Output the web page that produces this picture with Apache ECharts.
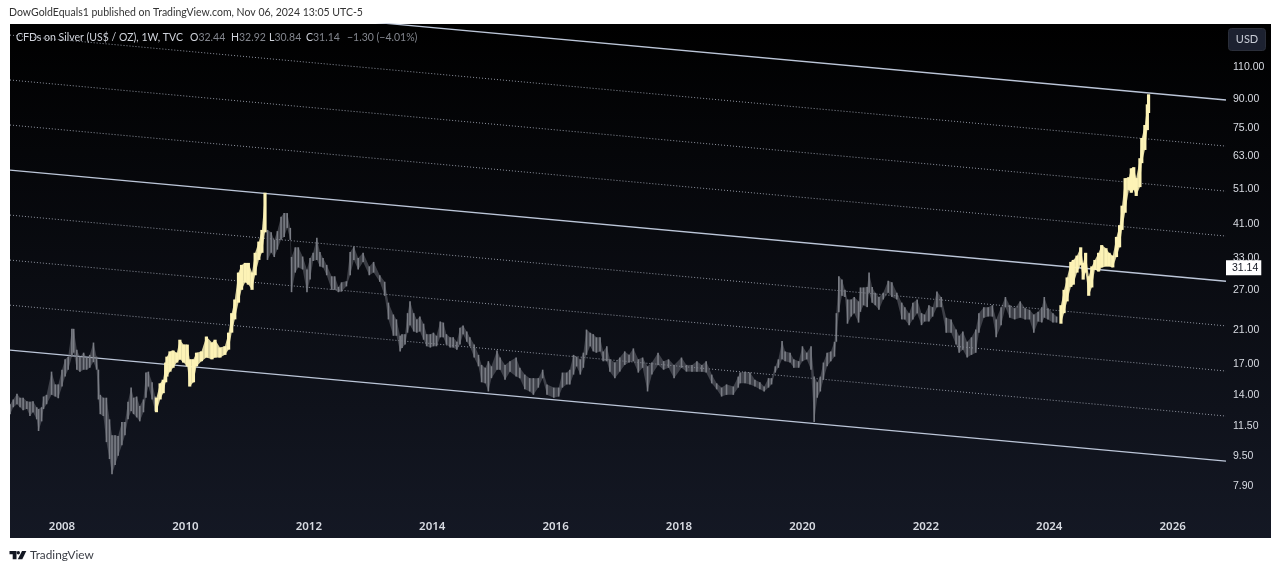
<!DOCTYPE html>
<html><head><meta charset="utf-8">
<style>html,body{margin:0;padding:0;background:#fff}#c{width:1280px;height:570px}</style>
<script src="https://cdn.jsdelivr.net/npm/echarts@6/dist/echarts.min.js"></script>
</head><body><div id="c"></div>
<script>
// [year, high, low]
const greyEarly=[[2007.16,13.2,12.4],[2007.21,13.6,12.95],[2007.27,14.1,13.2],[2007.32,13.75,12.95],[2007.37,13.75,12.7],[2007.43,13.45,12.8],[2007.48,13.4,12.25],[2007.53,13.45,12.55],[2007.59,12.95,12.0],[2007.62,12.8,11.15],[2007.67,12.95,11.85],[2007.70,13.85,12.8],[2007.75,14.0,13.2],[2007.83,16.2,14.0],[2007.89,14.95,13.85],[2007.94,14.95,13.7],[2008.0,16.4,14.75],[2008.05,17.5,15.7],[2008.10,17.8,16.4],[2008.16,21.2,17.8],[2008.19,21.2,18.25],[2008.24,18.6,16.4],[2008.29,17.8,16.2],[2008.35,18.25,16.4],[2008.40,17.7,16.4],[2008.45,18.0,16.6],[2008.51,19.45,17.2],[2008.56,17.8,16.4],[2008.59,16.4,13.6],[2008.62,14.0,12.4],[2008.67,13.75,12.25],[2008.72,13.75,10.4],[2008.77,12.0,9.35],[2008.81,10.85,8.5],[2008.86,10.85,9.0],[2008.91,10.8,9.55],[2008.97,11.8,10.2],[2009.02,11.8,10.85],[2009.07,13.4,12.0],[2009.12,14.65,12.65],[2009.16,13.75,12.4],[2009.21,13.85,12.15],[2009.26,13.05,11.85],[2009.32,13.6,12.55],[2009.36,16.1,13.75],[2009.40,16.2,14.75],[2009.46,15.15,13.6],[2009.51,13.85,12.65]];
const yellowFirst=[[2009.53,13.75,12.55],[2009.59,15.05,13.6],[2009.64,15.4,14.15],[2009.68,17.15,15.15],[2009.70,17.8,15.7],[2009.75,18.4,16.2],[2009.80,18.5,16.6],[2009.86,18.25,17.15],[2009.91,19.8,17.5],[2009.97,19.2,17.15],[2010.03,19.2,16.75],[2010.07,17.5,14.75],[2010.13,17.5,15.15],[2010.18,18.25,16.75],[2010.26,18.4,17.3],[2010.34,20.2,17.7],[2010.43,19.45,17.5],[2010.48,19.8,17.7],[2010.56,18.85,17.7],[2010.64,19.0,18.0],[2010.70,20.7,18.6],[2010.75,23.4,20.7],[2010.80,25.5,22.5],[2010.86,30.2,25.0],[2010.91,31.7,27.1],[2010.97,32.1,28.4],[2011.02,32.1,28.0],[2011.08,30.2,27.1],[2011.13,34.2,29.7],[2011.19,36.7,32.7],[2011.24,39.5,34.2],[2011.29,49.9,38.9]];
const greyDecline=[[2011.33,39.5,32.7],[2011.39,38.9,34.2],[2011.44,37.1,33.3],[2011.49,39.2,34.9],[2011.55,42.9,37.1],[2011.60,43.9,37.8],[2011.65,43.9,40.0],[2011.70,40.0,37.1],[2011.72,33.3,26.7],[2011.78,35.4,30.2],[2011.83,35.4,31.2],[2011.90,33.4,30.8],[2011.97,30.8,26.7],[2012.02,33.1,28.9],[2012.07,34.2,32.5],[2012.13,37.6,32.7],[2012.18,34.4,31.4],[2012.23,33.1,31.2],[2012.29,31.7,29.7],[2012.37,29.5,27.1],[2012.42,29.5,27.1],[2012.48,27.6,26.7],[2012.53,28.4,26.8],[2012.61,28.6,27.7],[2012.67,34.4,29.7],[2012.73,35.6,32.7],[2012.80,33.1,30.8],[2012.88,34.2,32.3],[2012.98,31.4,29.7],[2013.05,32.3,30.2],[2013.15,29.7,28.5],[2013.23,28.5,26.1],[2013.29,25.0,22.5],[2013.37,23.2,20.3],[2013.42,22.5,20.3],[2013.48,20.3,18.4],[2013.51,20.5,18.8],[2013.56,20.5,19.2],[2013.60,23.4,20.7],[2013.64,25.2,21.7],[2013.70,23.4,20.85],[2013.75,22.5,20.7],[2013.80,22.9,20.85],[2013.86,21.9,19.8],[2013.91,20.5,19.0],[2013.97,20.5,18.85],[2014.02,20.7,19.0],[2014.07,20.3,19.0],[2014.13,22.2,20.1],[2014.18,22.05,20.1],[2014.23,20.5,19.2],[2014.29,20.1,18.85],[2014.34,20.1,18.85],[2014.40,19.55,18.6],[2014.45,21.35,19.2],[2014.50,21.65,20.5],[2014.56,20.85,19.55],[2014.61,20.1,19.0],[2014.68,19.2,17.7],[2014.75,18.0,16.75],[2014.80,16.9,15.15],[2014.86,16.6,15.05],[2014.91,17.3,14.3],[2014.96,16.75,15.55],[2015.05,18.5,16.4],[2015.10,17.7,16.4],[2015.18,16.9,15.4],[2015.26,17.3,16.2],[2015.36,17.7,15.7],[2015.42,16.6,15.55],[2015.50,15.9,14.5],[2015.58,15.55,14.3],[2015.64,15.55,14.0],[2015.72,15.55,14.65],[2015.79,16.4,15.55],[2015.86,14.95,14.0],[2015.97,14.65,13.75]];
const greyRange=[[2016.05,14.65,13.85],[2016.11,16.1,14.65],[2016.18,16.1,14.95],[2016.23,16.4,14.95],[2016.29,18.0,15.9],[2016.34,17.8,16.75],[2016.40,17.5,15.9],[2016.45,18.25,16.6],[2016.50,21.1,18.0],[2016.56,20.7,19.0],[2016.61,20.5,18.4],[2016.66,20.1,18.25],[2016.72,20.1,18.4],[2016.77,18.4,17.3],[2016.83,19.0,17.3],[2016.88,17.5,16.2],[2016.96,17.15,15.55],[2017.04,17.7,16.2],[2017.12,18.4,16.9],[2017.19,18.0,17.15],[2017.26,18.75,17.3],[2017.34,17.5,16.1],[2017.41,17.7,16.6],[2017.49,16.75,14.3],[2017.56,17.15,15.9],[2017.66,18.25,16.9],[2017.75,17.3,16.4],[2017.83,17.5,16.6],[2017.92,16.9,15.55],[2018.04,17.7,16.6],[2018.12,16.9,16.2],[2018.21,16.9,16.2],[2018.29,17.3,16.2],[2018.37,16.9,16.2],[2018.44,17.3,16.1],[2018.53,15.9,15.05],[2018.61,15.05,14.5],[2018.69,14.65,13.85],[2018.77,14.95,14.0],[2018.88,14.75,14.0],[2018.96,15.7,14.65],[2018.99,16.1,15.05],[2019.07,16.2,15.05],[2019.15,16.1,14.95],[2019.23,15.4,14.75],[2019.31,15.15,14.5],[2019.38,14.75,14.3],[2019.45,15.55,14.65],[2019.50,15.55,14.95],[2019.56,16.75,16.1],[2019.61,17.5,16.6],[2019.67,19.65,17.5],[2019.72,18.4,17.3],[2019.80,18.25,17.15],[2019.86,17.5,16.6],[2019.94,17.3,16.6]];
const greyRecent=[[2020.00,19.0,17.3],[2020.07,18.25,17.5],[2020.14,19.0,16.4],[2020.19,15.7,11.8],[2020.24,15.15,13.75],[2020.29,15.7,14.3],[2020.34,17.15,15.4],[2020.40,18.25,16.75],[2020.46,18.4,17.3],[2020.52,19.55,17.8],[2020.55,23.4,19.55],[2020.59,29.5,23.55],[2020.64,28.9,26.1],[2020.69,27.1,25.9],[2020.73,25.5,21.9],[2020.79,25.5,22.9],[2020.84,25.9,23.4],[2020.91,25.2,22.05],[2020.94,27.5,23.6],[2020.99,27.5,24.6],[2021.05,27.6,24.3],[2021.08,30.2,26.6],[2021.13,27.6,25.0],[2021.18,26.6,24.6],[2021.24,25.9,23.9],[2021.31,26.6,25.5],[2021.39,28.7,26.6],[2021.45,28.4,25.9],[2021.53,26.6,25.5],[2021.61,25.0,22.5],[2021.66,24.3,22.5],[2021.73,23.4,21.7],[2021.79,25.0,22.5],[2021.86,25.5,23.4],[2021.93,23.4,21.7],[2021.98,23.2,22.2],[2022.05,24.6,22.2],[2022.11,24.3,22.9],[2022.18,26.8,24.3],[2022.25,25.9,24.3],[2022.33,22.75,20.7],[2022.41,22.5,20.7],[2022.49,21.1,19.2],[2022.54,20.3,18.25],[2022.60,20.85,18.6],[2022.67,19.55,17.7],[2022.74,20.1,18.0],[2022.81,21.1,18.25],[2022.86,23.4,20.7],[2022.94,24.3,22.75],[2023.01,24.3,22.9],[2023.08,24.6,22.9],[2023.14,22.5,20.1],[2023.22,24.3,21.7],[2023.29,25.9,24.3],[2023.36,24.6,22.75],[2023.44,24.15,22.5],[2023.53,25.2,22.75],[2023.61,24.15,22.5],[2023.68,23.9,22.5],[2023.75,23.2,20.7],[2023.82,23.6,22.2],[2023.88,24.3,22.05],[2023.92,25.9,22.75],[2023.98,24.15,22.5],[2024.06,23.4,22.05],[2024.12,22.9,22.05]];
const yellowLast=[[2024.19,24.6,21.9],[2024.24,27.1,23.4],[2024.29,29.3,25.2],[2024.35,32.3,27.6],[2024.39,32.7,28.0],[2024.45,33.6,30.2],[2024.51,35.4,31.7],[2024.55,32.1,28.9],[2024.59,34.2,30.2],[2024.64,29.5,26.1],[2024.69,31.4,27.5],[2024.74,32.7,30.8],[2024.80,34.2,30.4],[2024.85,35.9,31.2],[2024.92,35.2,31.4],[2024.97,34.2,31.4],[2025.03,33.6,31.2],[2025.09,37.8,33.3],[2025.14,40.7,35.4],[2025.18,46.0,39.5],[2025.23,54.7,44.0],[2025.29,55.0,50.8],[2025.33,58.2,49.9],[2025.37,58.6,50.8],[2025.41,54.7,48.9],[2025.47,62.0,51.7],[2025.50,70.4,60.1],[2025.55,76.4,65.3],[2025.59,87.0,74.0],[2025.61,92.7,82.4]];
const lineYears=[2007.157,2026.865];
const solidLevels=[[179.7,89.4],[57.55,28.6],[18.55,9.23]];
const dottedLevels=[[134.5,66.9],[101.4,50.4],[76.4,38.0],[43.36,21.6],[32.67,16.26],[24.61,12.25]];
const priceTicks=[110,90,75,63,51,41,33,27,21,17,14,11.5,9.5,7.9];
const yearTicks=[2008,2010,2012,2014,2016,2018,2020,2022,2024,2026];
const lastClose=31.14;
const FONT='Lato,"Noto Sans",sans-serif';
const PRICEFONT='"Liberation Sans",Lato,sans-serif';

const chart=echarts.init(document.getElementById('c'),null,{renderer:'canvas'});
function bars(name,data,color,w,z,band){
  return {name,type:'custom',data,z,clip:true,encode:{x:0,y:[1,2]},
    renderItem(p,api){
      const i=p.dataIndex;
      const a=api.coord([api.value(0),api.value(1)]),b=api.coord([api.value(0),api.value(2)]);
      const children=[];
      const n=data[i+1];
      if(n){
        const c=api.coord([n[0],n[1]]),d=api.coord([n[0],n[2]]);
        children.push({type:'polygon',shape:{points:[a,c,d,b]},style:{fill:color,opacity:band}});
      }
      children.push({type:'rect',shape:{x:a[0]-w/2,y:a[1],width:w,height:Math.max(b[1]-a[1],1)},style:{fill:color}});
      return {type:'group',children};
    }};
}
function trend(level,solid){
  return {type:'line',data:lineYears.map((y,i)=>[y,level[i]]),symbol:'none',silent:true,z:solid?4:3,
    lineStyle:solid?{color:'#bcc6d8',width:1.3}:{color:'#8f94a0',width:1,type:[1,2]}};
}
const GREY='#7a7d85',YEL='#fdf3b6';
const legendRich={a:{fill:'#d1d4dc',font:'10.5px '+FONT},b:{fill:'#83868e',font:'10.5px '+FONT}};
const legendParts=[[16,'{a|CFDs on Silver (US$ / OZ), 1W, TVC}'],[190,'{a|O}{b|32.44}'],[231,'{a|H}{b|32.92}'],[269,'{a|L}{b|30.84}'],[306,'{a|C}{b|31.14}'],[347,'{b|−1.30 (−4.01%)}']];
chart.setOption({
  animation:false,backgroundColor:'#fff',
  grid:{left:10,right:54,top:24,bottom:32},
  xAxis:{type:'value',min:2007.157,max:2026.865,splitLine:{show:false},axisLine:{show:false},axisTick:{show:false},
    axisLabel:{inside:true,margin:5,customValues:yearTicks,formatter:v=>String(Math.round(v)),color:'#d8dbe2',fontFamily:'"Noto Sans",sans-serif',fontSize:11.5,fontWeight:600}},
  yAxis:{type:'log',logBase:10,position:'right',min:5.69,max:144.2,splitLine:{show:false},axisLine:{show:false},axisTick:{show:false},minorTick:{show:false},
    axisLabel:{margin:7,customValues:priceTicks,formatter:v=>(+v).toFixed(2),color:'#d8dbe2',fontFamily:PRICEFONT,fontSize:10.5,align:'left',padding:[5,0,0,0]}},
  series:[
    ...solidLevels.map(l=>trend(l,true)),
    ...dottedLevels.map(l=>trend(l,false)),
    bars('greyEarly',greyEarly,GREY,1.6,5,0.45),
    bars('greyMiddle',greyDecline.concat(greyRange,greyRecent),GREY,1.6,5,0.45),
    bars('yellowFirst',yellowFirst,YEL,3.2,6,0.85),
    bars('yellowLast',yellowLast,YEL,3.2,6,0.85),
    {type:'scatter',data:[[2026.865,lastClose]],symbolSize:0,z:10,clip:false,silent:true,itemStyle:{opacity:1},
     label:{show:true,position:'right',distance:0,formatter:p=>p.value[1].toFixed(2),backgroundColor:'#fff',color:'#131722',opacity:1,
       fontFamily:PRICEFONT,fontSize:10.5,lineHeight:12,padding:[2,3,1,6]}}
  ],
  graphic:[
    {type:'rect',z:-10,silent:true,shape:{x:10,y:24,width:1261,height:514},
      style:{fill:new echarts.graphic.LinearGradient(0,0,0,1,[{offset:0,color:'#000000'},{offset:1,color:'#141824'}])}},
    {type:'text',x:9,y:7,style:{text:'DowGoldEquals1 published on TradingView.com, Nov 06, 2024 13:05 UTC-5',fill:'#333',font:'10.5px '+FONT}},
    ...legendParts.map(p=>({type:'text',x:p[0],y:32,z:20,style:{text:p[1],rich:legendRich}})),
    {type:'rect',z:20,shape:{x:1228.5,y:28.5,width:37,height:22,r:3},style:{fill:'#1c2130',stroke:'#2a2e39',lineWidth:1}},
    {type:'text',x:1247,y:39.5,z:21,style:{text:'USD',fill:'#c8ccd6',font:'11px '+FONT,align:'center',verticalAlign:'middle'}},
    {type:'polygon',shape:{points:[[9.5,551],[16.5,551],[16.5,559.3],[12.7,559.3],[12.7,554.3],[9.5,554.3]]},style:{fill:'#131722'}},
    {type:'circle',shape:{cx:18.3,cy:552.7,r:1.7},style:{fill:'#131722'}},
    {type:'polygon',shape:{points:[[22,551],[26.3,551],[22.3,559.3],[17.8,559.3]]},style:{fill:'#131722'}},
    {type:'text',x:30,y:549,style:{text:'TradingView',fill:'#3a3d45',font:'11.8px '+FONT}}
  ]
});
</script></body></html>
